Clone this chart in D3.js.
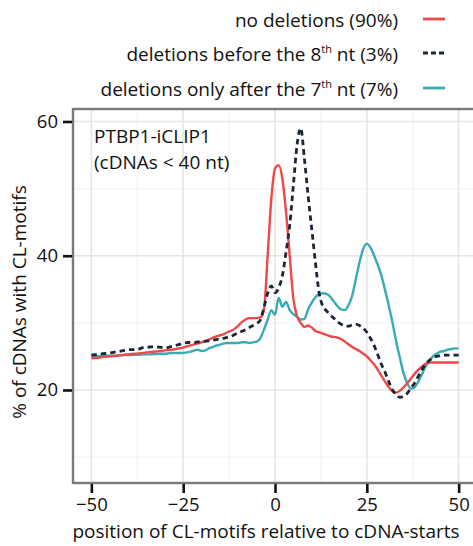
<!DOCTYPE html>
<html>
<head>
<meta charset="utf-8">
<script src="https://cdn.jsdelivr.net/npm/d3@7"></script>
<style>
  html, body { margin: 0; padding: 0; background: #fff; }
  svg { display: block; }
  text { font-family: "Open Sans", "Noto Sans", sans-serif; fill: #111; }
</style>
</head>
<body>
<svg id="chart" width="473" height="546"></svg>
<script>
// ---- data ----
const positions = d3.range(-50, 51);

const noDeletions = [
  24.7, 24.75, 24.8, 24.9, 24.95, 25.0, 25.05, 25.1, 25.2, 25.25,
  25.3, 25.35, 25.4, 25.45, 25.5, 25.6, 25.65, 25.7, 25.75, 25.8,
  25.9, 25.95, 26.0, 26.1, 26.2, 26.3, 26.5, 26.65, 26.8, 26.95,
  27.1, 27.3, 27.5, 27.75, 28.0, 28.15, 28.3, 28.6, 28.8, 29.1,
  29.6, 30.1, 30.5, 30.7, 30.7, 30.7, 30.8, 32.0, 40.0, 48.5,
  53.0, 53.5, 51.5, 46.5, 40.0, 33.6, 31.0, 30.0, 29.4, 29.6,
  29.3, 28.8, 28.6, 28.4, 28.2, 28.0, 27.9, 27.8, 27.6, 27.2,
  26.8, 26.4, 26.1, 25.8, 25.4, 25.0, 24.4, 23.8, 23.0, 22.1,
  21.2, 20.4, 19.8, 19.6, 19.9, 20.4, 21.0, 21.7, 22.4, 23.0,
  23.5, 23.9, 24.1, 24.1, 24.1, 24.1, 24.1, 24.1, 24.1, 24.1, 24.1
];

const delBefore8 = [
  25.2, 25.25, 25.3, 25.4, 25.45, 25.5, 25.6, 25.7, 25.8, 25.9,
  26.0, 26.0, 26.0, 26.1, 26.3, 26.35, 26.4, 26.45, 26.4, 26.35,
  26.3, 26.35, 26.5, 26.65, 26.8, 27.0, 27.05, 27.1, 27.1, 27.15,
  27.2, 27.25, 27.3, 27.4, 27.5, 27.6, 27.7, 27.85, 28.0, 28.25,
  28.5, 28.75, 29.0, 29.3, 29.6, 29.9, 30.4, 32.3, 34.4, 35.5,
  34.5, 35.2, 37.0, 40.5, 44.5, 50.5, 56.5, 59.0, 54.5, 49.0,
  44.0, 39.0, 34.5, 32.5, 31.8, 31.2, 30.7, 30.2, 29.8, 29.6,
  29.5, 29.7, 29.8, 29.6, 29.2, 28.6, 27.7, 26.6, 25.2, 23.8,
  22.6, 21.2, 20.0, 19.3, 18.9, 19.1, 19.5, 20.3, 21.0, 22.0,
  23.0, 23.8, 24.4, 24.8, 25.0, 25.1, 25.2, 25.2, 25.2, 25.2, 25.2
];

const delAfter7 = [
  25.0, 25.0, 25.05, 25.05, 25.1, 25.1, 25.1, 25.15, 25.15, 25.2,
  25.2, 25.2, 25.25, 25.25, 25.3, 25.3, 25.3, 25.35, 25.35, 25.4,
  25.4, 25.45, 25.5, 25.5, 25.5, 25.5, 25.6, 25.7, 25.9, 26.0,
  25.8, 25.9, 26.2, 26.4, 26.6, 26.75, 26.9, 27.0, 27.0, 27.0,
  27.0, 27.1, 27.1, 27.0, 27.1, 27.2, 27.7, 29.0, 30.5, 31.9,
  31.2, 33.7, 32.4, 33.1, 31.9, 31.3, 30.9, 30.5, 30.6, 32.0,
  33.0, 33.8, 34.3, 34.4, 34.3, 33.9, 33.2, 32.5, 32.0, 31.9,
  32.6, 34.0, 36.5, 39.0, 41.0, 41.8, 41.2, 40.0, 38.6, 37.0,
  34.8, 32.5, 30.0, 27.2, 24.8, 22.5, 21.0, 20.2, 20.4, 21.2,
  22.3, 23.5, 24.3, 25.0, 25.4, 25.7, 25.8, 26.0, 26.1, 26.2, 26.2
];

const seriesNames = [
  "no deletions (90%)",
  "deletions before the 8th nt (3%)",
  "deletions only after the 7th nt (7%)"
];
const seriesColors = ["#EF4848", "#1B2638", "#3AAAB3"];
const xTicks = [-50, -25, 0, 25, 50];
const yTicks = [20, 40, 60];
const xMinor = [-37.5, -12.5, 12.5, 37.5];
const yMinor = [10, 30, 50];

// ---- layout ----
const svg = d3.select("#chart");
const L = 73, R = 477, T = 109, B = 483;
const FS = 19;

const x = d3.scaleLinear().domain([-55, 55]).range([L, R]);
const y = d3.scaleLinear().domain([6.14, 61.86]).range([B, T]);

// grid
const grid = svg.append("g");
grid.selectAll(".minx").data(xMinor).join("line")
  .attr("x1", d => x(d)).attr("x2", d => x(d)).attr("y1", T).attr("y2", B)
  .attr("stroke", "#F4F4F4").attr("stroke-width", 1.4);
grid.selectAll(".miny").data(yMinor).join("line")
  .attr("x1", L).attr("x2", R).attr("y1", d => y(d)).attr("y2", d => y(d))
  .attr("stroke", "#F4F4F4").attr("stroke-width", 1.4);
grid.selectAll(".majx").data(xTicks).join("line")
  .attr("x1", d => x(d)).attr("x2", d => x(d)).attr("y1", T).attr("y2", B)
  .attr("stroke", "#E6E6E6").attr("stroke-width", 1.6);
grid.selectAll(".majy").data(yTicks).join("line")
  .attr("x1", L).attr("x2", R).attr("y1", d => y(d)).attr("y2", d => y(d))
  .attr("stroke", "#E6E6E6").attr("stroke-width", 1.6);

// lines
const allSeries = [noDeletions, delBefore8, delAfter7];
const line = d3.line().x((d, i) => x(positions[i])).y(d => y(d)).curve(d3.curveMonotoneX);
const order = [2, 0, 1];
order.forEach(k => {
  svg.append("path")
    .attr("d", line(allSeries[k]))
    .attr("fill", "none")
    .attr("stroke", seriesColors[k])
    .attr("stroke-width", k === 1 ? 2.8 : 2.4)
    .attr("stroke-dasharray", k === 1 ? "5.5,4" : null)
    .attr("stroke-linejoin", "round");
});

// border
svg.append("rect").attr("x", L).attr("y", T).attr("width", R - L).attr("height", B - T)
  .attr("fill", "none").attr("stroke", "#7A7A7A").attr("stroke-width", 2.4);

// axes
const xAxis = svg.append("g").attr("transform", `translate(0,${B + 1})`)
  .call(d3.axisBottom(x).tickValues(xTicks).tickSize(9).tickPadding(5));
xAxis.select(".domain").remove();
xAxis.selectAll(".tick line").attr("stroke", "#111").attr("stroke-width", 2.6);
xAxis.selectAll(".tick text").attr("font-size", FS - 0.5).attr("fill", "#111")
  .style("font-family", '"Open Sans", sans-serif');

const yAxis = svg.append("g").attr("transform", `translate(${L - 1},0)`)
  .call(d3.axisLeft(y).tickValues(yTicks).tickSize(9).tickPadding(5));
yAxis.select(".domain").remove();
yAxis.selectAll(".tick line").attr("stroke", "#111").attr("stroke-width", 2.6);
yAxis.selectAll(".tick text").attr("font-size", FS - 0.5).attr("fill", "#111")
  .style("font-family", '"Open Sans", sans-serif');

// axis titles
svg.append("text").attr("x", 266).attr("y", 538)
  .attr("text-anchor", "middle").attr("font-size", FS)
  .text("position of CL-motifs relative to cDNA-starts");
svg.append("text")
  .attr("transform", `translate(26,302) rotate(-90)`)
  .attr("text-anchor", "middle").attr("font-size", FS)
  .text("% of cDNAs with CL-motifs");

// annotation
svg.append("text").attr("x", 94).attr("y", 143).attr("font-size", FS).text("PTBP1-iCLIP1");
svg.append("text").attr("x", 94).attr("y", 169).attr("font-size", FS).text("(cDNAs < 40 nt)");

// legend
const legendRows = [
  { parts: [["no deletions (90%)", false]], cy: 19 },
  { parts: [["deletions before the 8", false], ["th", true], [" nt (3%)", false]], cy: 53 },
  { parts: [["deletions only after the 7", false], ["th", true], [" nt (7%)", false]], cy: 88 }
];
legendRows.forEach((row, i) => {
  const t = svg.append("text").attr("x", 398).attr("y", row.cy + 8)
    .attr("text-anchor", "end").attr("font-size", FS);
  row.parts.forEach(([s, sup]) => {
    const ts = t.append("tspan").text(s);
    if (sup) ts.attr("font-size", 11).attr("baseline-shift", "8");
  });
  svg.append("line").attr("x1", 423).attr("x2", 445).attr("y1", row.cy).attr("y2", row.cy)
    .attr("stroke", seriesColors[i]).attr("stroke-width", 2.8)
    .attr("stroke-dasharray", i === 1 ? "5,3" : null);
});
</script>
</body>
</html>
